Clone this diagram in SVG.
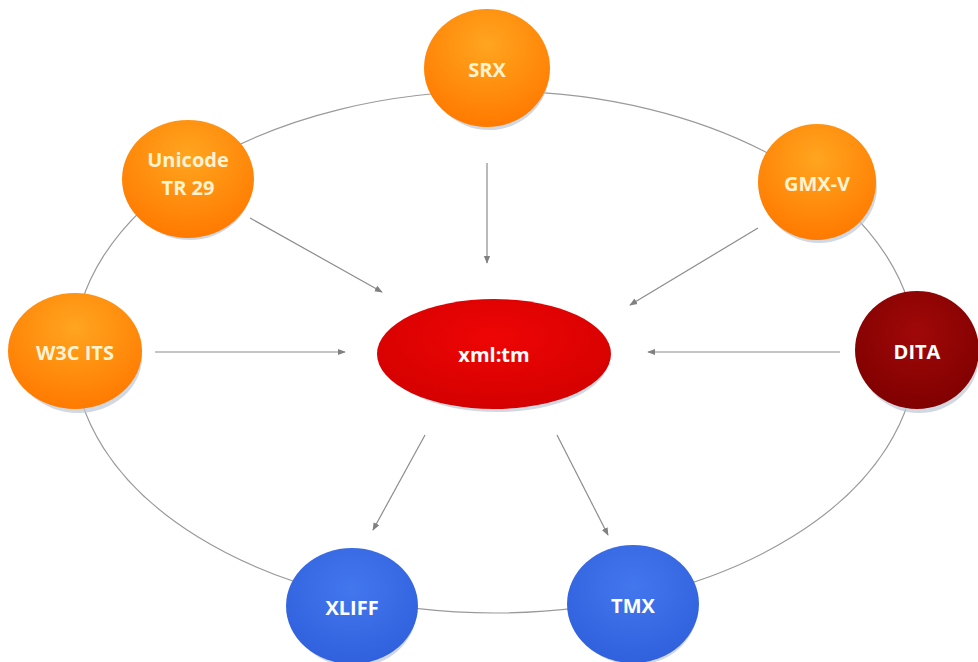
<svg xmlns="http://www.w3.org/2000/svg" width="978" height="662" viewBox="0 0 978 662">
<defs>
<radialGradient id="gOrange" cx="50%" cy="30%" r="70%">
<stop offset="0" stop-color="#ffa51f"/>
<stop offset="1" stop-color="#ff7a00"/>
</radialGradient>
<radialGradient id="gRed" cx="50%" cy="35%" r="70%">
<stop offset="0" stop-color="#ee0505"/>
<stop offset="1" stop-color="#d20000"/>
</radialGradient>
<radialGradient id="gDark" cx="50%" cy="35%" r="70%">
<stop offset="0" stop-color="#a00808"/>
<stop offset="1" stop-color="#7e0000"/>
</radialGradient>
<radialGradient id="gBlue" cx="50%" cy="35%" r="70%">
<stop offset="0" stop-color="#4377ee"/>
<stop offset="1" stop-color="#2f5fdc"/>
</radialGradient>
<marker id="arr" viewBox="0 0 10 10" refX="9" refY="5" markerWidth="8" markerHeight="8" orient="auto" markerUnits="userSpaceOnUse">
<path d="M0,1 L10,5 L0,9 z" fill="#808080"/>
</marker>
</defs>
<style>
.ring{fill:none;stroke:#9a9a9a;stroke-width:1.2}
.edge{stroke:#8c8c8c;stroke-width:1.2;fill:none;marker-end:url(#arr)}
.shadow{fill:#bfc8d6;opacity:0.7}
.lbl{font-family:"Open Sans","DejaVu Sans",sans-serif;font-weight:bold;font-size:20px;text-anchor:middle;fill:#fff3d2}
.lblw{fill:#ffffff}
</style>
<rect width="978" height="662" fill="#ffffff"/>
<ellipse class="ring" cx="495" cy="352" rx="421" ry="261"/>
<g id="connectors">
<line class="edge" x1="487" y1="163" x2="487" y2="263"/>
<line class="edge" x1="250" y1="218" x2="382" y2="292"/>
<line class="edge" x1="758" y1="228" x2="630" y2="305"/>
<line class="edge" x1="155" y1="352" x2="345" y2="352"/>
<line class="edge" x1="840" y1="352" x2="648" y2="352"/>
<line class="edge" x1="425" y1="435" x2="373" y2="530"/>
<line class="edge" x1="557" y1="435" x2="608" y2="535"/>
</g>
<g id="srx">
<ellipse class="shadow" cx="489" cy="73" rx="60" ry="57"/>
<ellipse cx="487" cy="68" rx="63" ry="59" fill="url(#gOrange)"/>
<text class="lbl" x="487" y="77">SRX</text>
</g>
<g id="unicode">
<ellipse class="shadow" cx="190" cy="183" rx="62" ry="57"/>
<ellipse cx="188" cy="179" rx="66" ry="59" fill="url(#gOrange)"/>
<text class="lbl" x="188" y="167">Unicode</text>
<text class="lbl" x="188" y="195">TR 29</text>
</g>
<g id="gmxv">
<ellipse class="shadow" cx="819" cy="187" rx="58" ry="56"/>
<ellipse cx="817" cy="182" rx="59" ry="58" fill="url(#gOrange)"/>
<text class="lbl" x="817" y="191">GMX-V</text>
</g>
<g id="w3cits">
<ellipse class="shadow" cx="78" cy="357" rx="64" ry="56"/>
<ellipse cx="75" cy="351" rx="67" ry="58" fill="url(#gOrange)"/>
<text class="lbl" x="75" y="360">W3C ITS</text>
</g>
<g id="xmltm">
<ellipse class="shadow" cx="497" cy="359" rx="112" ry="53"/>
<ellipse cx="494" cy="354" rx="117" ry="55" fill="url(#gRed)"/>
<text class="lbl lblw" x="494" y="362">xml:tm</text>
</g>
<g id="dita">
<ellipse class="shadow" cx="919" cy="356" rx="60" ry="57"/>
<ellipse cx="917" cy="350" rx="62" ry="59" fill="url(#gDark)"/>
<text class="lbl lblw" x="917" y="359">DITA</text>
</g>
<g id="xliff">
<ellipse class="shadow" cx="354" cy="612" rx="62" ry="55"/>
<ellipse cx="352" cy="606" rx="66" ry="58" fill="url(#gBlue)"/>
<text class="lbl lblw" x="352" y="615">XLIFF</text>
</g>
<g id="tmx">
<ellipse class="shadow" cx="635" cy="610" rx="62" ry="55"/>
<ellipse cx="633" cy="604" rx="66" ry="59" fill="url(#gBlue)"/>
<text class="lbl lblw" x="633" y="613">TMX</text>
</g>
</svg>
